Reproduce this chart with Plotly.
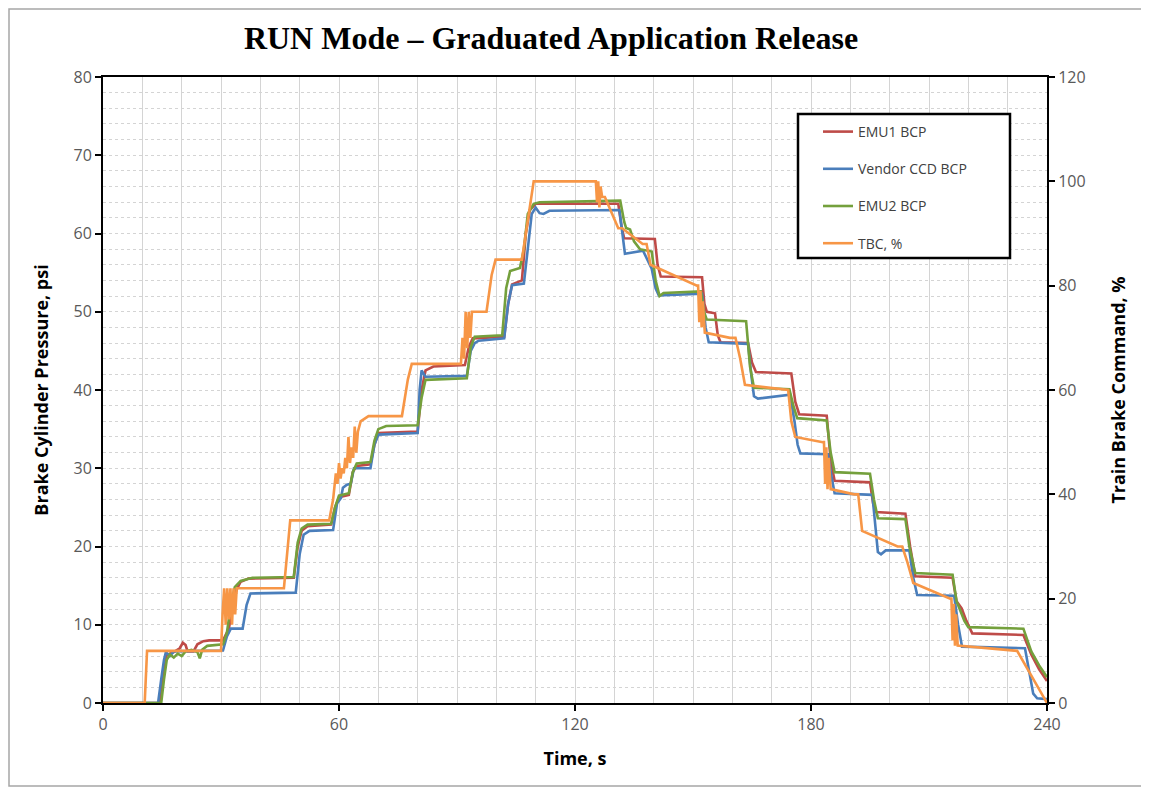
import plotly.graph_objects as go

# ---------------- data ----------------
emu1_t = [0, 14.5, 15.5, 16, 17, 18, 19.5, 20.3, 21, 21.5, 23, 24, 25.5, 27, 30.5, 32, 33, 34, 35, 37,
          48.5, 49.5, 50.5, 52, 58, 59, 60, 62.5, 63.5, 64.5, 68, 69, 70, 80, 81, 82, 84, 92, 93, 94,
          102, 103, 104, 106.5, 107.5, 108.5, 110, 131, 131.8, 132.5, 140.3, 141, 141.8, 152.3, 152.9,
          153.5, 155.6, 156.3, 157, 164, 165, 166, 175, 176, 177, 184, 185, 186, 195, 195.8, 196.5,
          204, 205.2, 206.5, 216, 217, 218.3, 219.5, 221, 234, 236, 238, 240]
emu1_v = [0, 0, 4, 6, 6.3, 6.5, 7.0, 7.7, 7.4, 6.6, 6.6, 7.5, 7.9, 8.0, 8.0, 9.5, 12.5, 14.5, 15.5, 15.9,
          16.0, 20, 22, 22.6, 22.8, 25, 26.3, 26.6, 29.5, 30.3, 30.5, 33, 34.5, 34.7, 40, 42.5, 43, 43.2, 45.5, 46.6,
          46.8, 51, 53.5, 54.0, 60, 63, 63.8, 63.8, 61, 59.4, 59.3, 56, 54.5, 54.4, 51,
          50.0, 49.8, 47, 46.1, 46.0, 43.5, 42.3, 42.1, 38.5, 36.9, 36.7, 31, 28.4, 28.2, 25.5, 24.4,
          24.2, 20, 16.2, 16.0, 13, 12.1, 10.5, 8.9, 8.7, 6.2, 4.3, 2.8]

vendor_t = [0, 14.0, 14.8, 15.5, 16, 17, 18, 30.5, 31.5, 32.5, 35.5, 36.5, 37.5, 49, 50, 51, 52.5,
            58.5, 59.5, 60.5, 61, 62, 63, 63.8, 68, 69, 70, 80, 80.5, 81, 82, 92.5, 93.5, 94.5, 95.5,
            102, 103, 104, 107, 108, 109, 110, 111, 112, 113.5, 131.3, 132, 132.7, 137.3, 138.5, 139.5,
            140.5, 141.3, 152.3, 153.2, 154, 164, 164.8, 165.5, 166.5, 174.7, 175.8, 176.6, 177.3,
            184.3, 185.2, 186, 195.6, 196.4, 197, 197.8, 199, 205, 206, 207, 216.4, 217.4, 218.4,
            234.4, 235.5, 236.5, 237.5, 240]
vendor_v = [0, 0, 3, 5.5, 6.5, 6.0, 6.6, 6.7, 8.5, 9.5, 9.5, 12.5, 14.0, 14.1, 19, 21.5, 22.0,
            22.1, 25.5, 26.2, 27.5, 27.9, 28.0, 30.0, 30.0, 33, 34.3, 34.5, 40, 42.5, 41.7, 41.8, 45, 46.0, 46.3,
            46.6, 51, 53.4, 53.6, 58, 62.5, 63.3, 62.6, 62.5, 62.9, 63.0, 60, 57.4, 57.8, 56.5, 55.5,
            53, 52.1, 52.3, 48, 46.1, 45.9, 42, 39.2, 38.9, 39.4, 36, 33, 31.9,
            31.8, 29, 26.8, 26.6, 22, 19.3, 19.0, 19.5, 19.5, 16, 13.8, 13.7, 10, 7.2,
            7.0, 4, 1.2, 0.6, 0.5]

emu2_t = [0, 14.8, 15.5, 16.2, 17, 18, 19, 20, 21, 22.5, 24, 24.6, 25.2, 26.5, 30.5, 31.5, 32.5, 33.5, 35, 38,
          48.5, 49.5, 50.5, 52, 58, 59, 60, 62.5, 63.5, 64.5, 68, 69, 70, 72, 80, 81, 82, 92.5, 93.5, 94.5,
          101.5, 102.5, 103.5, 106, 107, 108, 109.5, 111, 131.5, 132.5, 133, 134, 135, 136.5, 139.5, 140.5,
          141.5, 142.5, 152, 152.8, 153.5, 163.5, 164.5, 165.5, 174.5, 175.5, 176.5, 184, 185, 186, 195,
          196, 197, 204, 205, 206.5, 216, 217, 219, 220, 234, 236, 238, 240]
emu2_v = [0, 0, 3, 5.5, 6.2, 5.8, 6.3, 6.0, 6.6, 6.8, 6.5, 5.7, 6.8, 7.3, 7.5, 9, 12.5, 14.8, 15.6, 16.0,
          16.1, 20.5, 22.3, 22.8, 22.9, 25, 26.5, 26.8, 29.5, 30.6, 30.8, 33.5, 35.0, 35.4, 35.5, 39, 41.3, 41.5, 45.5, 46.8,
          47.0, 53, 55.2, 55.6, 58, 62.5, 63.8, 64.0, 64.2, 61.5, 60.7, 60.5, 59.0, 58.0, 57.7, 54,
          52.0, 52.4, 52.6, 50, 49.0, 48.8, 43, 40.3, 40.1, 38, 36.4, 36.1, 32, 29.5, 29.3,
          26, 23.6, 23.5, 20, 16.6, 16.4, 13, 10.5, 9.7, 9.5, 6.6, 4.8, 3.3]

tbc_t = [0, 10.6, 11.2, 30.0, 30.4, 30.8, 31.2, 31.6, 32.0, 32.4, 32.8, 33.2, 33.6, 34.0, 34.6, 46.0, 47.6,
         57.5, 58.5, 59.2, 59.6, 60.0, 60.4, 60.8, 61.2, 61.6, 62.0, 62.4, 62.8, 63.2, 63.6, 64.0, 64.4, 64.8,
         65.5, 67.5, 76.0, 77.5, 78.5, 91.0, 91.4, 91.8, 92.2, 92.6, 93.0, 93.4, 93.8, 94.3, 97.5, 98.8, 99.8,
         106.5, 108.0, 109.5, 125.3, 125.6, 125.9, 126.2, 126.5, 126.9, 127.6, 131.0, 132.0, 137.2, 138.2,
         139.2, 151.0, 151.3, 151.6, 151.9, 152.2, 152.5, 153.0, 159.4, 160.8, 162.0, 163.2, 173.0, 174.2,
         175.0, 176.0, 183.0, 183.3, 183.6, 183.9, 184.2, 184.5, 185.0, 191.0, 192.0, 193.0, 202.0, 203.2,
         204.5, 206.0, 215.4, 215.7, 216.0, 216.3, 216.6, 216.9, 217.3, 231.4, 232.4, 240]
tbc_v = [0, 0, 10, 10, 17, 22, 15, 22, 16, 22, 15, 22, 17, 22, 22, 22, 35,
         35, 39, 44, 42, 46, 43, 45, 44, 47, 45, 51, 46, 49, 47, 53, 48, 52,
         54, 55, 55, 62, 65, 65, 70, 66, 75, 68, 75, 70, 75, 75, 75, 82, 85,
         85, 93, 100, 100, 96, 100, 95, 99, 97, 97, 91, 91, 88, 88, 84,
         80, 80, 73, 79, 72, 77, 71, 70, 70, 66, 61, 60, 60, 54,
         51, 50, 50, 42, 49, 41, 47, 41, 40, 40, 33, 30, 30, 27,
         23, 20, 20, 12, 19, 11, 17, 11, 10, 10, 0, 0]

x_tickvals = [0, 60, 120, 180, 240]

# ---------------- figure ----------------
RED = "#BE4B48"
BLUE = "#4A7EBB"
GREEN = "#74A03C"
ORANGE = "#F79646"
FONT = "Open Sans"

fig = go.Figure()
fig.add_trace(go.Scatter(x=emu1_t, y=emu1_v, name="EMU1 BCP", mode="lines",
                         line=dict(color=RED, width=2.6), legendgroup="a"))
fig.add_trace(go.Scatter(x=vendor_t, y=vendor_v, name="Vendor CCD BCP", mode="lines",
                         line=dict(color=BLUE, width=2.6), legendgroup="b"))
fig.add_trace(go.Scatter(x=emu2_t, y=emu2_v, name="EMU2 BCP", mode="lines",
                         line=dict(color=GREEN, width=2.6), legendgroup="c"))
fig.add_trace(go.Scatter(x=tbc_t, y=tbc_v, name="TBC, %", mode="lines", yaxis="y2",
                         line=dict(color=ORANGE, width=2.6), legendgroup="d"))

# page has an 8px body margin; plot area target on screen: x 103..1047, y 77..703
def px_x(p):
    return (p - 103) / 944.0

def px_y(p):
    return (703 - p) / 626.0

fig.update_layout(
    width=1149, height=788,
    margin=dict(l=95, r=110, t=69, b=93),
    paper_bgcolor="white", plot_bgcolor="white",
    title=dict(text="<b>RUN Mode – Graduated Application Release</b>",
               font=dict(family="Liberation Serif", size=32, color="black"),
               x=(551 - 8) / 1149, xanchor="center", y=1 - (38 - 8) / 788, yanchor="middle"),
    xaxis=dict(range=[0, 240], tickvals=x_tickvals, ticks="outside", ticklen=6, tickwidth=2,
               tickcolor="black", showline=True, linecolor="black", linewidth=2, mirror=True,
               showgrid=True, gridcolor="#D4D4D4", gridwidth=1,
               minor=dict(dtick=10, showgrid=True, gridcolor="#D4D4D4", gridwidth=1),
               tickfont=dict(family=FONT, size=16, color="#595959"),
               title=dict(text="<b>Time, s</b>", font=dict(family=FONT, size=18, color="black"),
                          standoff=18),
               zeroline=False),
    yaxis=dict(range=[0, 80], dtick=10, ticks="outside", ticklen=6, tickwidth=2, tickcolor="black",
               showline=True, linecolor="black", linewidth=2,
               showgrid=True, gridcolor="#D4D4D4", gridwidth=1, griddash="dot",
               minor=dict(dtick=2, showgrid=True, gridcolor="#D4D4D4", gridwidth=1, griddash="dot"),
               tickfont=dict(family=FONT, size=16, color="#595959"),
               title=dict(text="<b>Brake Cylinder Pressure, psi</b>",
                          font=dict(family=FONT, size=18, color="black"), standoff=20),
               zeroline=False),
    yaxis2=dict(range=[0, 120], dtick=20, overlaying="y", side="right", ticks="outside", ticklen=6,
                tickwidth=2, tickcolor="black", showline=True, linecolor="black", linewidth=2,
                showgrid=False, zeroline=False,
                tickfont=dict(family=FONT, size=16, color="#595959"),
                title=dict(text="<b>Train Brake Command, %</b>",
                           font=dict(family=FONT, size=18, color="black"), standoff=28)),
    legend=dict(x=px_x(818), y=px_y(116), xanchor="left", yanchor="top",
                bgcolor="rgba(0,0,0,0)", borderwidth=0, tracegroupgap=16,
                font=dict(family=FONT, size=14, color="#404040"), itemwidth=30),
    shapes=[
        dict(type="rect", xref="paper", yref="paper", x0=px_x(798), x1=px_x(1010),
             y0=px_y(258), y1=px_y(114), line=dict(color="black", width=2.5),
             fillcolor="white", layer="above"),
        dict(type="rect", xref="paper", yref="paper", x0=px_x(9), x1=px_x(1143),
             y0=px_y(786), y1=px_y(9), line=dict(color="#A6A6A6", width=1.5),
             fillcolor="rgba(0,0,0,0)", layer="below"),
    ],
)

fig.write_html("out.html")
